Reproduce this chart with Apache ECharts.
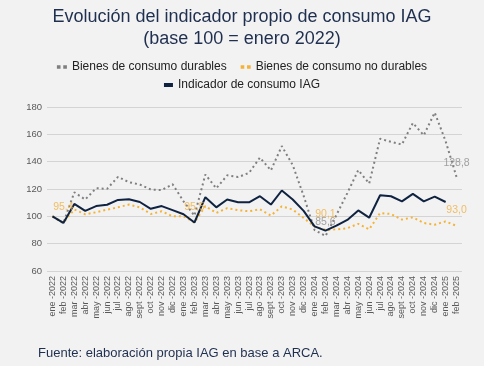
<!DOCTYPE html>
<html><head><meta charset="utf-8">
<script src="https://cdn.jsdelivr.net/npm/echarts@6/dist/echarts.min.js"></script>
<style>html,body{margin:0;padding:0;background:#f2f2f2;}#c{width:484px;height:366px;}</style>
</head><body><div id="c"></div>
<script>
const months = ['ene','feb','mar','abr','may','jun','jul','ago','sept','oct','nov','dic'];
const categories = [];
[2022,2023,2024,2025].forEach(y => months.forEach(m => categories.push(m + ' -' + y)));
categories.length = 38;

const durables = [100,95,117.6,112.3,120.6,120.1,128.9,125,123.3,119.6,119.2,123.5,
  111,100.5,130.6,120.5,130,128.7,131.8,143,133.6,151.4,137.5,115,
  90,85.6,101,117,133.8,124,156.8,154.5,152.6,168.3,159.3,175.9,155,128.8];
const noDurables = [100,95.4,105,101.5,103,104.9,106.6,108.6,106.6,101.7,103.7,100,
  100,95.5,107.5,102.5,106,104.5,103.7,105.2,100.6,107.3,105,98.8,
  92.5,90.1,90.5,91.3,94.5,90.5,102.4,101.7,97.6,99.3,95.1,93.9,96.3,93.0];
const iag = [100,95.2,109.1,104,107.5,108.5,112,112.5,110.5,105.5,107.5,104.5,
  101.5,95.5,114,106.6,112.3,110.3,110.3,114.7,108.6,118.9,112.3,104,
  92.7,89.5,93.2,97.4,104.3,99,115.4,114.7,111,116.4,111,114.4,110.5];
const durablesLabelIdx = [25,37];
const noDurablesLabelIdx = [1,13,25,37];
const yTicks = [60,80,100,120,140,160,180];

const fmt = p => { const v = p.value[1]; return Number.isInteger(v) ? v + ',0' : String(v).replace('.', ','); };
function labelSeries(name, arr, idx, color, dist) {
  return {name: name + ' (etiquetas)', type: 'scatter', symbolSize: 0, z: 10, silent: true,
    data: idx.map(i => [i, arr[i]]),
    label: {show: true, position: 'top', distance: dist, color: color, fontSize: 10.5,
      fontFamily: 'Liberation Sans', formatter: fmt},
    labelLayout: {hideOverlap: false}};
}
const chart = echarts.init(document.getElementById('c'), null, {renderer: 'canvas'});
chart.setOption({
  backgroundColor: '#f2f2f2',
  animation: false,
  title: {
    text: 'Evolución del indicador propio de consumo IAG\n(base 100 = enero 2022)',
    left: 'center', top: 1,
    textStyle: {color: '#1f2f4f', fontSize: 18, fontWeight: 'normal', fontFamily: 'Liberation Sans', lineHeight: 22}
  },
  legend: [
    {data: [
       {name: 'Bienes de consumo durables', icon: 'path://M0,0h4v4h-4z M7,0h4v4h-4z'},
       {name: 'Bienes de consumo no durables', icon: 'path://M0,0h4v4h-4z M7,0h4v4h-4z'}],
     top: 56, left: 'center',
     itemWidth: 10, itemHeight: 4, itemGap: 14,
     textStyle: {color: '#222', fontSize: 12, fontFamily: 'Liberation Sans'}},
    {data: [{name: 'Indicador de consumo IAG', icon: 'rect'}], top: 74, left: 'center',
     itemWidth: 9, itemHeight: 4,
     textStyle: {color: '#222', fontSize: 12, fontFamily: 'Liberation Sans'}}
  ],
  grid: {left: 47, right: 22, top: 107, bottom: 95},
  xAxis: {
    type: 'category', data: categories, boundaryGap: true,
    axisLine: {show: false}, axisTick: {show: false},
    axisLabel: {interval: 0, rotate: 90, color: '#595959', fontSize: 9, fontFamily: 'Liberation Sans', margin: 5}
  },
  yAxis: {
    type: 'value', min: yTicks[0], max: yTicks[yTicks.length-1], interval: 20,
    axisLine: {show: false}, axisTick: {show: false},
    axisLabel: {color: '#595959', fontSize: 9.5, fontFamily: 'Liberation Sans', margin: 5},
    splitLine: {lineStyle: {color: '#d4d4d4', width: 1}}
  },
  series: [
    {name: 'Bienes de consumo durables', type: 'line', data: durables,
     showSymbol: false, symbol: 'none', color: '#7f7f7f',
     lineStyle: {color: '#7f7f7f', width: 2, type: [2,3]}, z: 2},
    {name: 'Bienes de consumo no durables', type: 'line', data: noDurables,
     showSymbol: false, symbol: 'none', color: '#f5b335',
     lineStyle: {color: '#f5b335', width: 2, type: [2,3]}, z: 3},
    {name: 'Indicador de consumo IAG', type: 'line', data: iag,
     showSymbol: false, symbol: 'none', color: '#0f2341',
     lineStyle: {color: '#0f2341', width: 2}, z: 4},
    labelSeries('Bienes de consumo durables', durables, durablesLabelIdx, '#8c8c8c', 8),
    labelSeries('Bienes de consumo no durables', noDurables, noDurablesLabelIdx, '#f0b040', 10)
  ],
  graphic: [{type: 'text', left: 38, top: 347,
    style: {text: 'Fuente: elaboración propia IAG en base a ARCA.', fill: '#1f2f4f', fontSize: 13, fontFamily: 'Liberation Sans'}}]
});
</script></body></html>
